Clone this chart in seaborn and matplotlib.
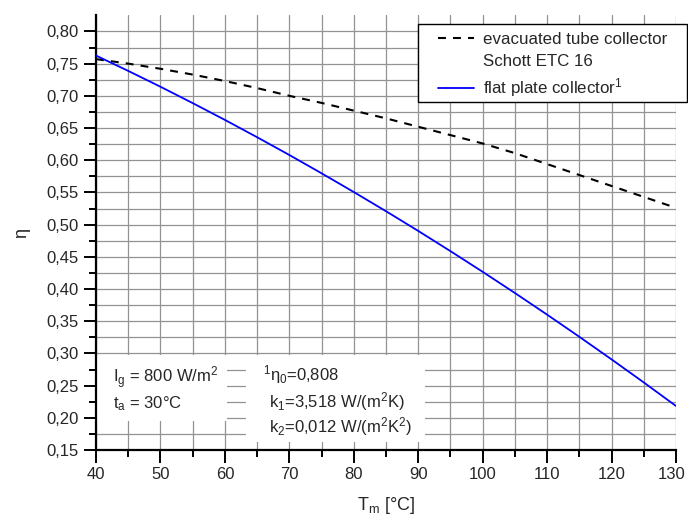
import matplotlib
matplotlib.use("Agg")
import matplotlib.pyplot as plt
import matplotlib.ticker as mticker
import matplotlib.transforms as mtransforms
from matplotlib.lines import Line2D
from matplotlib.patches import Rectangle
import seaborn as sns
import pandas as pd

# ---- data ----
t_m = [40, 45, 50, 55, 60, 65, 70, 75, 80, 85, 90, 95, 100, 105, 110, 115, 120, 125, 130]
eta_tube = [0.757, 0.750, 0.742, 0.733, 0.723, 0.712, 0.700, 0.689, 0.677, 0.665,
            0.652, 0.639, 0.626, 0.611, 0.594, 0.577, 0.560, 0.543, 0.526]
eta_flat = [0.7625, 0.7387, 0.7141, 0.6887, 0.6626, 0.6357, 0.6081, 0.5797, 0.5506, 0.5208,
            0.4902, 0.4588, 0.4267, 0.3938, 0.3602, 0.3258, 0.2907, 0.2549, 0.2183]
label_tube_1 = "evacuated tube collector"
label_tube_2 = "Schott ETC 16"
label_flat = "flat plate collector$^\\mathrm{1}$"
box1_lines = [r"I$_\mathrm{g}$ = 800 W/m$^\mathrm{2}$", r"t$_\mathrm{a}$ = 30°C"]
box2_lines = [r"$^\mathrm{1}$η$_\mathrm{0}$=0,808",
              r"k$_\mathrm{1}$=3,518 W/(m$^\mathrm{2}$K)",
              r"k$_\mathrm{2}$=0,012 W/(m$^\mathrm{2}$K$^\mathrm{2}$)"]
x_label = r"T$_\mathrm{m}$ [°C]"
y_label = "η"

df = pd.DataFrame({"t": t_m, "tube": eta_tube, "flat": eta_flat})

sns.set_style("ticks")
plt.rcParams["font.family"] = ["Liberation Sans", "DejaVu Sans"]
plt.rcParams["mathtext.fontset"] = "custom"
plt.rcParams["mathtext.rm"] = "Liberation Sans"
plt.rcParams["mathtext.it"] = "Liberation Sans:italic"
plt.rcParams["mathtext.bf"] = "Liberation Sans:bold"

W, H = 688, 519
fig = plt.figure(figsize=(W / 100, H / 100), dpi=100)
ax = fig.add_axes([96 / W, 1 - 450 / H, 580 / W, 435 / H])
ax.set_axisbelow(True)

sns.lineplot(data=df, x="t", y="tube", ax=ax, color="black", lw=1.5, zorder=3)
sns.lineplot(data=df, x="t", y="flat", ax=ax, color="#0000ff", lw=1.3, zorder=3)
ax.lines[0].set_dashes((3.8, 3.4))

ax.set_xlim(40, 130)
ax.set_ylim(0.15, 0.8255)

ax.xaxis.set_major_locator(mticker.MultipleLocator(10))
ax.xaxis.set_minor_locator(mticker.MultipleLocator(5))
ax.yaxis.set_major_locator(mticker.FixedLocator([0.15 + 0.05 * i for i in range(14)]))
ax.yaxis.set_minor_locator(mticker.FixedLocator([0.175 + 0.05 * i for i in range(13)]))
ax.yaxis.set_major_formatter(mticker.FuncFormatter(lambda v, p: f"{v:.2f}".replace(".", ",")))

ax.grid(True, which="both", color="#939393", lw=0.9)

for s in ["top", "right"]:
    ax.spines[s].set_visible(False)
for s in ["left", "bottom"]:
    ax.spines[s].set_linewidth(1.6)
    ax.spines[s].set_color("black")

ax.tick_params(which="major", length=9, width=1.4, color="black", labelsize=12, direction="out")
ax.tick_params(which="minor", length=5, width=1.4, color="black", direction="out")

ax.set_xlabel(x_label, fontsize=13, labelpad=9)
ax.set_ylabel(y_label, fontsize=13, labelpad=12)

# keep the last x tick label inside the canvas
fig.canvas.draw()
for lbl in ax.get_xticklabels():
    if lbl.get_text() == "130":
        lbl.set_transform(lbl.get_transform() +
                          mtransforms.ScaledTranslation(-4 / 100, 0, fig.dpi_scale_trans))

# white annotation boxes covering the grid
ax.add_patch(Rectangle((40, 0.195), 20.3, 0.1027, facecolor="white", edgecolor="none", zorder=1))
ax.add_patch(Rectangle((63.3, 0.1624), 27.8, 0.1353, facecolor="white", edgecolor="none", zorder=1))

for txt, yv in zip(box1_lines, [0.254, 0.2152]):
    ax.text(42.6, yv, txt, fontsize=12, va="baseline", ha="left", zorder=4)
for txt, xv, yv in zip(box2_lines, [65.9, 66.85, 66.85], [0.2588, 0.2168, 0.1778]):
    ax.text(xv, yv, txt, fontsize=12, va="baseline", ha="left", zorder=4)

# legend frame (drawn separately so the padding matches the reference)
fig.patches.append(Rectangle((418 / W, 1 - 102 / H), 269 / W, 78 / H, transform=fig.transFigure,
                             facecolor="white", edgecolor="black", lw=1.0, zorder=4))

handles = [
    Line2D([], [], color="black", lw=1.5, dashes=(3.8, 3.4)),
    Line2D([], [], color="none", lw=0),
    Line2D([], [], color="#0000ff", lw=1.3),
]
leg = fig.legend(handles, [label_tube_1, label_tube_2, label_flat],
                 loc="upper left", bbox_to_anchor=(438 / W, 1 - 32 / H),
                 fontsize=12.2, frameon=False, handlelength=2.1, handletextpad=0.55,
                 labelspacing=0.42, borderpad=0, borderaxespad=0)
leg.set_zorder(5)

fig.savefig("out.png", dpi=100)
